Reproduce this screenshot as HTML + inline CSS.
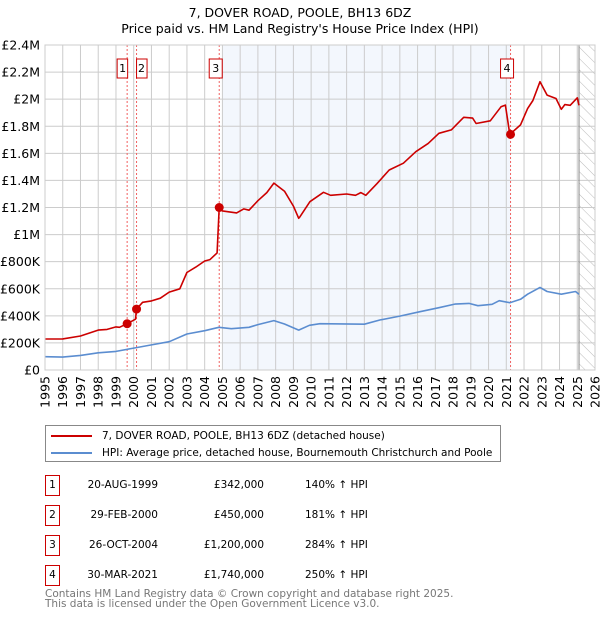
<!DOCTYPE html>
<html><head><meta charset="utf-8"><style>
body{margin:0;background:#fff;font-family:"Liberation Sans","DejaVu Sans",sans-serif;}
#wrap{position:relative;width:600px;height:620px;overflow:hidden}
</style></head><body><div id="wrap">
<svg id="chart" width="600" height="620" style="position:absolute;left:0;top:0;font-family:'DejaVu Sans','Liberation Sans',sans-serif">
<defs><pattern id="hatch" width="8" height="8" patternUnits="userSpaceOnUse" patternTransform="rotate(-45)"><line x1="0" y1="0" x2="0" y2="8" stroke="#bbb" stroke-width="1"/></pattern></defs>
<text x="300" y="17" text-anchor="middle" font-size="12.5" fill="#000">7, DOVER ROAD, POOLE, BH13 6DZ</text>
<text x="300" y="33" text-anchor="middle" font-size="12.5" fill="#000">Price paid vs. HM Land Registry's House Price Index (HPI)</text>
<g id="plot"></g>
</svg>
<div style="position:absolute;left:45px;top:425px;width:454px;height:35px;border:1px solid #888;font-family:'DejaVu Sans',sans-serif;font-size:10.5px">
 <div style="position:absolute;left:5px;top:4px;white-space:nowrap"><span style="display:inline-block;width:41px;height:2px;background:#cc0000;vertical-align:middle;margin-right:10px"></span>7, DOVER ROAD, POOLE, BH13 6DZ (detached house)</div>
 <div style="position:absolute;left:5px;top:21px;white-space:nowrap"><span style="display:inline-block;width:41px;height:2px;background:#5b8dd0;vertical-align:middle;margin-right:10px"></span>HPI: Average price, detached house, Bournemouth Christchurch and Poole</div>
</div>
<div id="table" style="font-family:'DejaVu Sans',sans-serif;font-size:10.5px"></div>
<div style="position:absolute;left:45px;top:589px;font-family:'DejaVu Sans',sans-serif;font-size:10.5px;color:#777;line-height:10px">Contains HM Land Registry data © Crown copyright and database right 2025.<br>This data is licensed under the Open Government Licence v3.0.</div>
</div>
<script>
var redT=[1995,1996,1997,1998,1998.5,1999,1999.2,1999.63,2000.1,2000.16,2000.5,2001,2001.5,2002,2002.6,2003,2003.5,2004,2004.3,2004.7,2004.82,2005,2005.8,2006.2,2006.5,2007,2007.5,2007.9,2008.5,2009,2009.3,2009.37,2009.93,2010.7,2011.1,2012,2012.5,2012.8,2013.08,2013.7,2014.4,2015.2,2015.9,2016.6,2017.2,2017.9,2018.6,2019.1,2019.3,2020.1,2020.7,2020.95,2021.2,2021.8,2022.2,2022.5,2022.9,2023.3,2023.8,2024.1,2024.3,2024.6,2025.0,2025.1];
var redV=[229,230,251,295,300,318,315,342,375,450,500,510,530,575,600,720,760,805,815,865,1200,1175,1160,1190,1180,1250,1310,1380,1320,1210,1120,1132,1243,1312,1290,1300,1290,1310,1290,1375,1477,1527,1612,1673,1748,1773,1866,1860,1820,1840,1944,1956,1740,1810,1930,1990,2129,2030,2005,1925,1960,1955,2010,1955];
var hpiT=[1995,1996,1997,1998,1999,2000,2001,2002,2003,2004,2004.8,2005.5,2006.5,2007,2007.9,2008.5,2009.3,2009.9,2010.5,2013,2013.9,2015,2016.1,2017.2,2018.1,2018.9,2019.4,2020.2,2020.6,2021.2,2021.8,2022.2,2022.9,2023.3,2024.1,2024.9,2025.1];
var hpiV=[98,95,108,127,137,162,185,209,266,290,315,305,315,335,365,340,295,330,342,338,370,398,430,460,487,492,475,485,512,497,522,560,610,580,560,580,560];
var saleT=[1999.63,2000.16,2004.82,2021.24];
var saleV=[342,450,1200,1740];
var saleLabels=['1','2','3','4'];
var saleDates=['20-AUG-1999','29-FEB-2000','26-OCT-2004','30-MAR-2021'];
var salePrices=['£342,000','£450,000','£1,200,000','£1,740,000'];
var saleHpi=['140% ↑ HPI','181% ↑ HPI','284% ↑ HPI','250% ↑ HPI'];
var yTicks=[0,200,400,600,800,1000,1200,1400,1600,1800,2000,2200,2400];
var yTickLabels=['£0','£200K','£400K','£600K','£800K','£1M','£1.2M','£1.4M','£1.6M','£1.8M','£2M','£2.2M','£2.4M'];
var xTicks=[1995,1996,1997,1998,1999,2000,2001,2002,2003,2004,2005,2006,2007,2008,2009,2010,2011,2012,2013,2014,2015,2016,2017,2018,2019,2020,2021,2022,2023,2024,2025,2026];

var L=45,R=595,T=45,B=370;
function X(t){return L+(t-1995)/31*(R-L);}
function Y(v){return B-v/2400*(B-T);}
var NS='http://www.w3.org/2000/svg',g=document.getElementById('plot');
function el(n,a){var e=document.createElementNS(NS,n);for(var k in a)e.setAttribute(k,a[k]);g.appendChild(e);return e;}
var e;
e=el('rect',{x:X(2005),y:T,width:X(2021.24)-X(2005),height:B-T,fill:'#eef3fc',opacity:0.7});


e=el('rect',{x:X(2025.1),y:T,width:R-X(2025.1),height:B-T,fill:'url(#hatch)'});


yTicks.forEach(function(v,i){
 e=el('line',{x1:L,x2:R,y1:Y(v),y2:Y(v),stroke:'#ccc','stroke-width':1});
 
 
 e=el('text',{x:40,y:Y(v)+4.5,'text-anchor':'end','font-size':12.5,fill:'#000'});e.textContent=yTickLabels[i];
 
 
});
xTicks.forEach(function(t){
 e=el('line',{x1:X(t),x2:X(t),y1:T,y2:B,stroke:'#ccc','stroke-width':1});
 
 
 e=el('text',{x:0,y:0,'text-anchor':'end','font-size':12.5,fill:'#000',transform:'translate('+(X(t)+4.5)+',376) rotate(-90)'});e.textContent=t;
 
 
});
e=el('line',{x1:X(2025.1),x2:X(2025.1),y1:T,y2:B,stroke:'#888','stroke-width':1});


saleT.forEach(function(t,i){
 e=el('line',{x1:X(t),x2:X(t),y1:T,y2:B,stroke:'#f06060','stroke-width':1,'stroke-dasharray':'2,2'});
 
 
});
function path(ts,vs,c,n){var d='';ts.forEach(function(t,i){d+=(i?'L':'M')+X(t).toFixed(1)+','+Y(vs[i]).toFixed(1);});
 e=el('path',{d:d,fill:'none',stroke:c,'stroke-width':1.6,'stroke-linejoin':'round'});
 
 }
path(hpiT,hpiV,'#5b8dd0','hpi-line');
path(redT,redV,'#cc0000','price-line');
saleT.forEach(function(t,i){
 e=el('circle',{cx:X(t),cy:Y(saleV[i]),r:4.5,fill:'#cc0000'});
 
 
 e=el('rect',{x:i==0?X(t)-10:i==1?X(t):X(t)-10,y:59,width:i<2?10.5:13,height:19,fill:'#fff',stroke:'#cc0000','stroke-width':1});
 
 
 e=el('text',{x:i==0?X(t)-4.5:i==1?X(t)+5:X(t)-3.5,y:72,'text-anchor':'middle','font-size':11,fill:'#000'});e.textContent=saleLabels[i];
 
 
});
e=el('rect',{x:L,y:T,width:R-L,height:B-T,fill:'none',stroke:'#ccc','stroke-width':1});


var tb=document.getElementById('table');
saleLabels.forEach(function(l,i){
 var y=475+i*30;
 var r=document.createElement('div');
 
 
 r.style.cssText='position:absolute;left:0;top:'+y+'px;width:600px;height:20px';
 r.innerHTML='<div style="position:absolute;left:45px;top:0;width:13px;height:19px;border:1px solid #cc0000;text-align:center;line-height:19px">'+l+'</div>'+
 '<div style="position:absolute;left:60px;width:98px;text-align:right;line-height:21px">'+saleDates[i]+'</div>'+
 '<div style="position:absolute;left:180px;width:84px;text-align:right;line-height:21px">'+salePrices[i]+'</div>'+
 '<div style="position:absolute;left:305px;line-height:21px;white-space:nowrap">'+saleHpi[i]+'</div>';
 tb.appendChild(r);
});
</script></body></html>
